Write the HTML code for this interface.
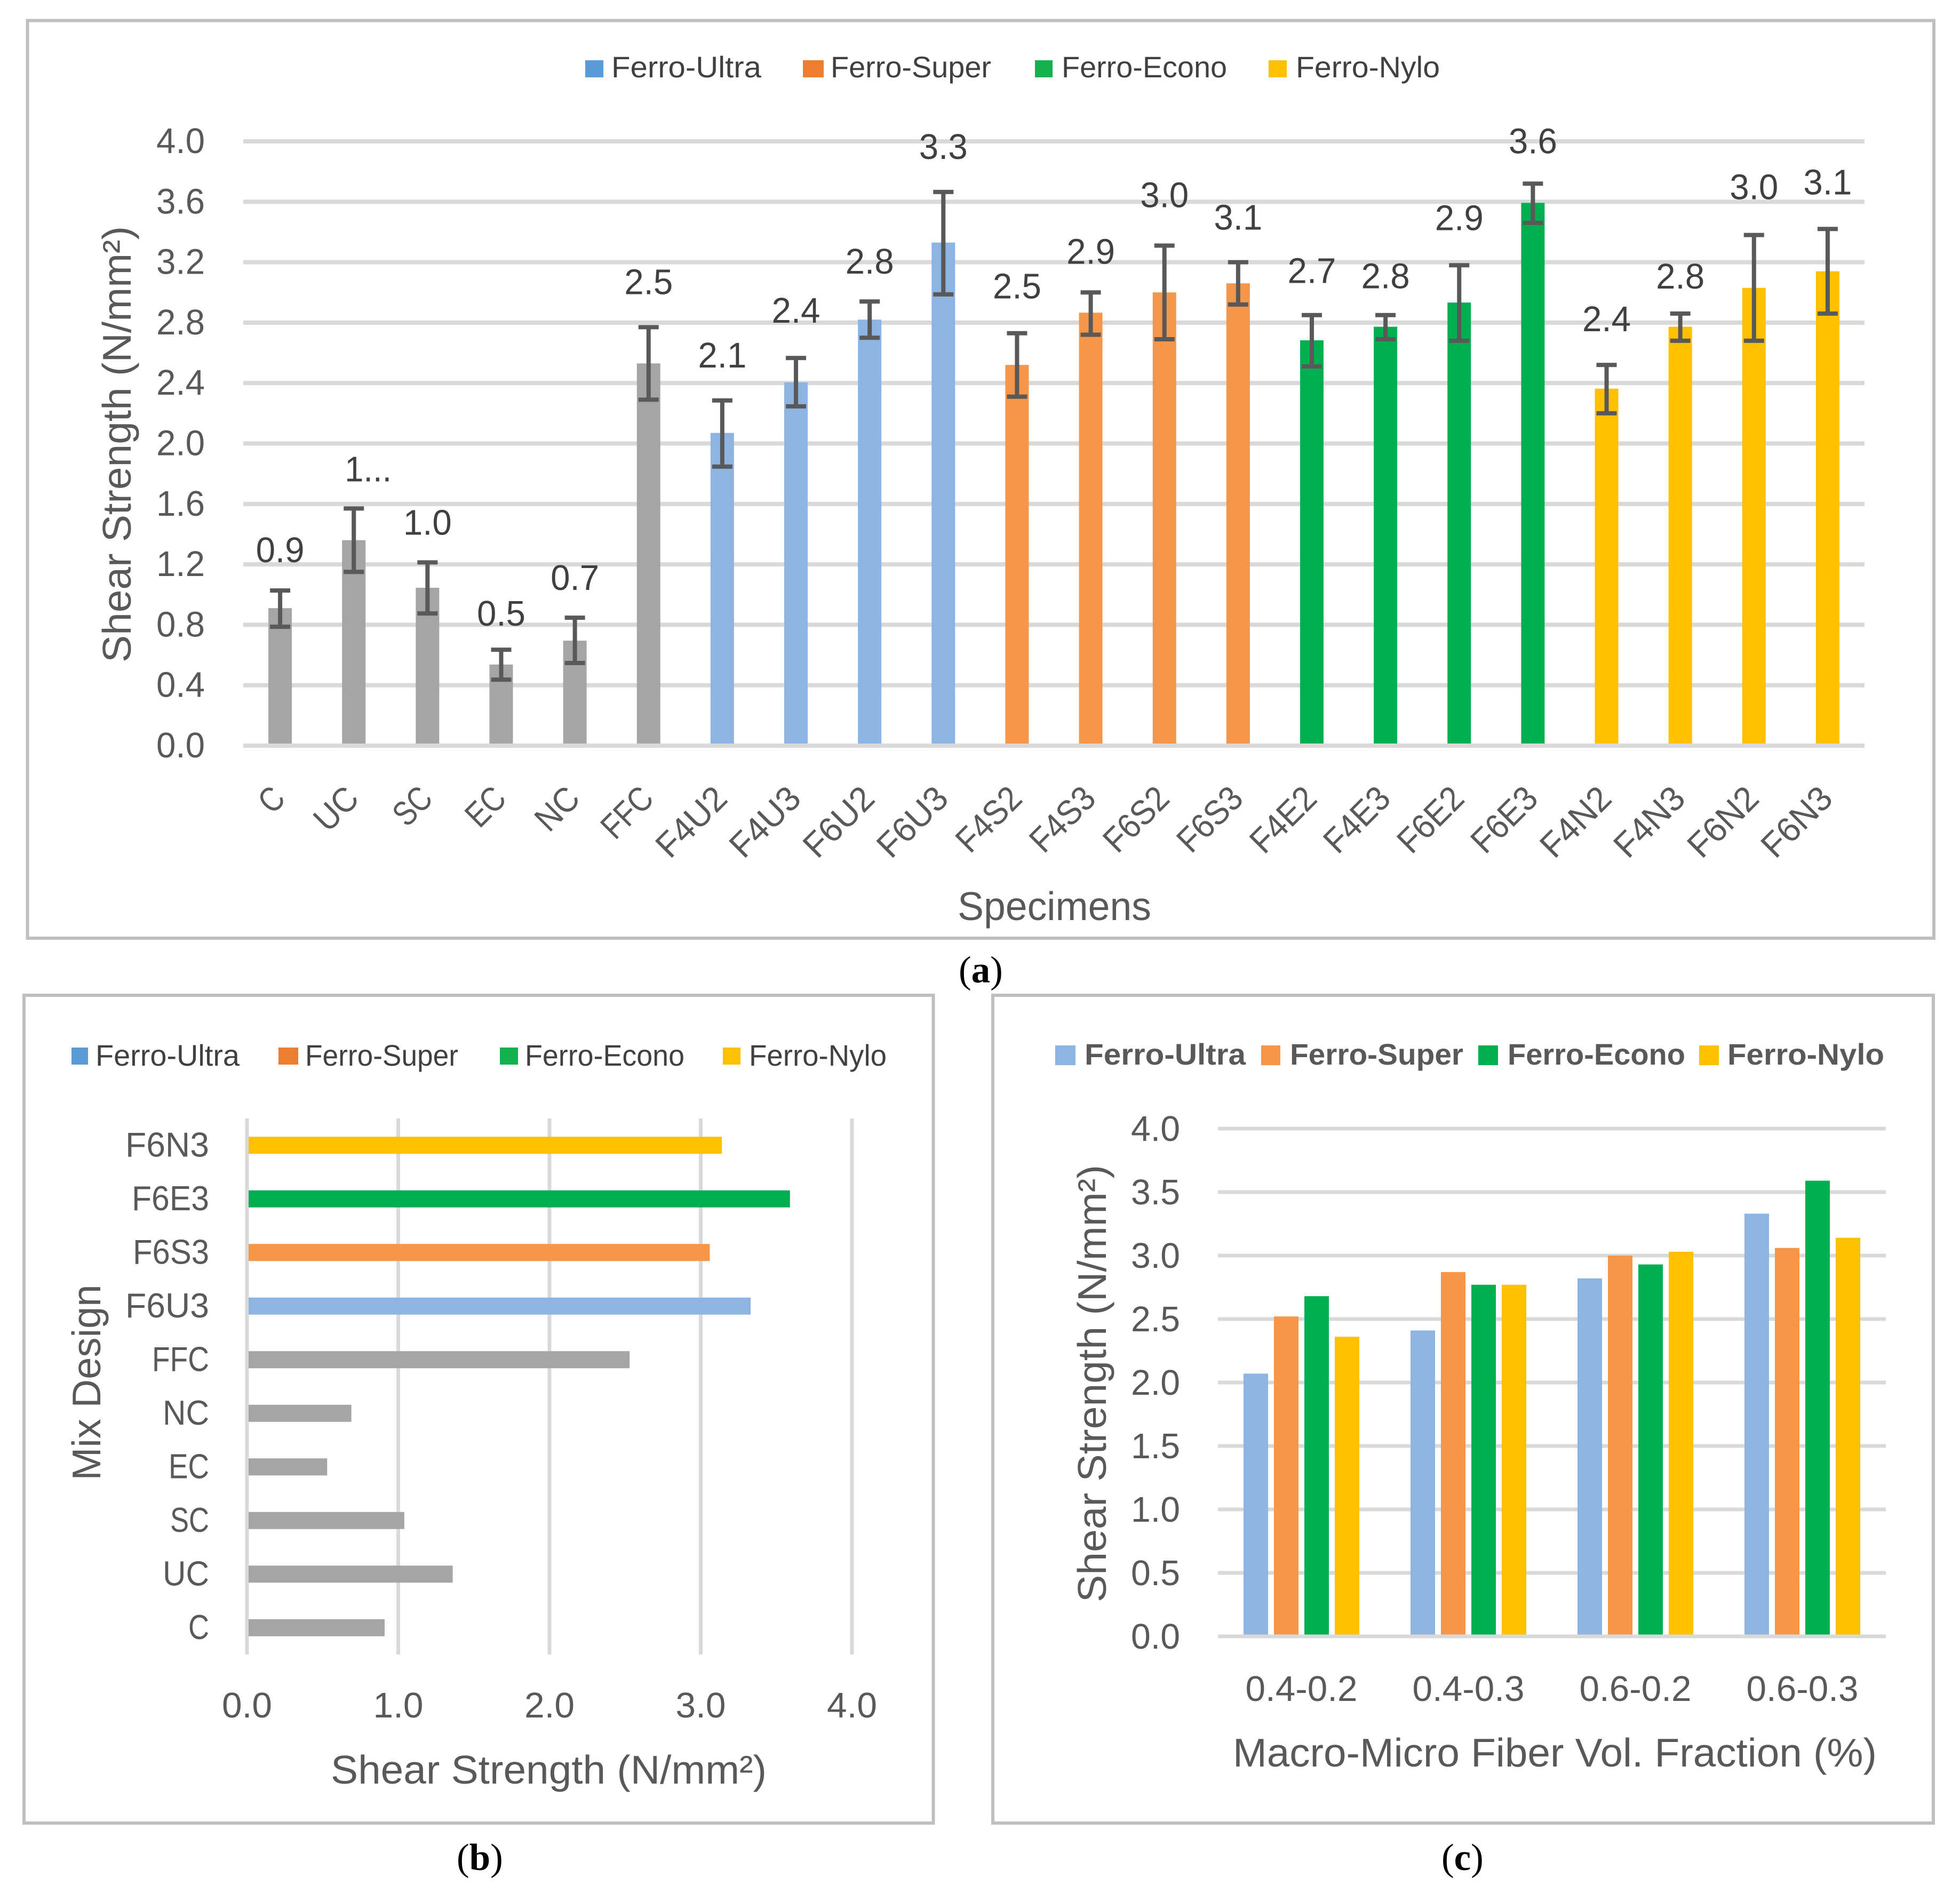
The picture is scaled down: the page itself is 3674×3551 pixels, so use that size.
<!DOCTYPE html>
<html lang="en">
<head>
<meta charset="utf-8">
<title>Shear Strength Charts</title>
<style>
html,body{margin:0;padding:0;background:#fff;}
svg{display:block;}
text{font-family:"Liberation Sans","DejaVu Sans",sans-serif;}
.cap{font-family:"Liberation Serif",serif;font-size:71px;fill:#000;}
.lg{font-size:56px;fill:#404040;}
.lgc{font-size:56px;fill:#595959;font-weight:bold;}
.ttl{font-size:75px;fill:#595959;}
</style>
</head>
<body>
<svg id="fig" xmlns="http://www.w3.org/2000/svg" width="3674" height="3551" viewBox="0 0 3674 3551">
<rect x="0" y="0" width="3674" height="3551" fill="#fff"/>
<rect x="51.5" y="38.5" width="3573.5" height="1720.5" fill="#fff" stroke="#bfbfbf" stroke-width="6"/>
<rect x="45" y="1866" width="1704.5" height="1552" fill="#fff" stroke="#bfbfbf" stroke-width="6"/>
<rect x="1861" y="1866" width="1763" height="1552" fill="#fff" stroke="#bfbfbf" stroke-width="6"/>

<g>
<rect x="1097" y="113" width="34" height="32" fill="#5b9bd5"/>
<text class="lg" x="1146" y="145" textLength="281" lengthAdjust="spacingAndGlyphs">Ferro-Ultra</text>
<rect x="1505" y="113" width="39" height="32" fill="#ed7d31"/>
<text class="lg" x="1557" y="145" textLength="301" lengthAdjust="spacingAndGlyphs">Ferro-Super</text>
<rect x="1940" y="113" width="33" height="32" fill="#13b24f"/>
<text class="lg" x="1990" y="145" textLength="310" lengthAdjust="spacingAndGlyphs">Ferro-Econo</text>
<rect x="2378" y="113" width="34" height="32" fill="#ffc000"/>
<text class="lg" x="2429" y="145" textLength="270" lengthAdjust="spacingAndGlyphs">Ferro-Nylo</text>
</g>
<text class="ttl" transform="translate(245 833) rotate(-90)" text-anchor="middle" textLength="818" lengthAdjust="spacingAndGlyphs">Shear Strength (N/mm²)</text>
<text class="ttl" x="1795" y="1725" textLength="363" lengthAdjust="spacingAndGlyphs">Specimens</text>
<text class="cap" x="1797" y="1842">(<tspan font-weight="bold">a</tspan>)</text>

<g>
<rect x="134" y="1964" width="31" height="32" fill="#5b9bd5"/>
<text class="lg" x="179" y="1998" textLength="270" lengthAdjust="spacingAndGlyphs">Ferro-Ultra</text>
<rect x="522" y="1964" width="37" height="32" fill="#ed7d31"/>
<text class="lg" x="572" y="1998" textLength="287" lengthAdjust="spacingAndGlyphs">Ferro-Super</text>
<rect x="937" y="1964" width="34" height="32" fill="#13b24f"/>
<text class="lg" x="984" y="1998" textLength="299" lengthAdjust="spacingAndGlyphs">Ferro-Econo</text>
<rect x="1355" y="1964" width="33" height="32" fill="#ffc000"/>
<text class="lg" x="1404" y="1998" textLength="258" lengthAdjust="spacingAndGlyphs">Ferro-Nylo</text>
</g>
<text class="ttl" x="620" y="3344" textLength="817" lengthAdjust="spacingAndGlyphs">Shear Strength (N/mm²)</text>
<text class="ttl" transform="translate(188 2592) rotate(-90)" text-anchor="middle" textLength="367" lengthAdjust="spacingAndGlyphs">Mix Design</text>
<text class="cap" x="856" y="3506">(<tspan font-weight="bold">b</tspan>)</text>

<g>
<rect x="1978" y="1960" width="38" height="37" fill="#8eb4e3"/>
<text class="lgc" x="2033" y="1996" textLength="302" lengthAdjust="spacingAndGlyphs">Ferro-Ultra</text>
<rect x="2364" y="1960" width="36" height="37" fill="#f79646"/>
<text class="lgc" x="2418" y="1996" textLength="325" lengthAdjust="spacingAndGlyphs">Ferro-Super</text>
<rect x="2771" y="1960" width="37" height="37" fill="#00b050"/>
<text class="lgc" x="2826" y="1996" textLength="333" lengthAdjust="spacingAndGlyphs">Ferro-Econo</text>
<rect x="3185" y="1960" width="37" height="37" fill="#ffc000"/>
<text class="lgc" x="3238" y="1996" textLength="294" lengthAdjust="spacingAndGlyphs">Ferro-Nylo</text>
</g>
<text class="ttl" x="2311" y="3312" textLength="1207" lengthAdjust="spacingAndGlyphs">Macro-Micro Fiber Vol. Fraction (%)</text>
<text class="ttl" transform="translate(2073 2594) rotate(-90)" text-anchor="middle" textLength="820" lengthAdjust="spacingAndGlyphs">Shear Strength (N/mm²)</text>
<text class="cap" x="2702" y="3506">(<tspan font-weight="bold">c</tspan>)</text>
</svg>

<script>
// ---- Panel (a) data ----
var catsA = ['C','UC','SC','EC','NC','FFC','F4U2','F4U3','F6U2','F6U3','F4S2','F4S3','F6S2','F6S3','F4E2','F4E3','F6E2','F6E3','F4N2','F4N3','F6N2','F6N3'];
var groupsA = ['control','control','control','control','control','control','ultra','ultra','ultra','ultra','super','super','super','super','econo','econo','econo','econo','nylo','nylo','nylo','nylo'];
var valuesA = [0.91,1.36,1.045,0.537,0.695,2.53,2.07,2.405,2.82,3.33,2.52,2.866,3.0,3.06,2.683,2.773,2.933,3.593,2.363,2.773,3.03,3.14];
var errHighA = [1.027,1.57,1.213,0.635,0.847,2.77,2.285,2.566,2.94,3.665,2.73,3.0,3.31,3.2,2.85,2.85,3.18,3.72,2.52,2.86,3.38,3.42];
var errLowA = [0.787,1.15,0.875,0.437,0.547,2.29,1.847,2.246,2.70,2.987,2.31,2.72,2.69,2.92,2.51,2.69,2.68,3.46,2.2,2.68,2.68,2.86];
var printedA = ['0.9','1...','1.0','0.5','0.7','2.5','2.1','2.4','2.8','3.3','2.5','2.9','3.0','3.1','2.7','2.8','2.9','3.6','2.4','2.8','3.0','3.1'];
var ticksA = ['0.0','0.4','0.8','1.2','1.6','2.0','2.4','2.8','3.2','3.6','4.0'];

// ---- Panel (b) data ----
var catsB = ['C','UC','SC','EC','NC','FFC','F6U3','F6S3','F6E3','F6N3'];
var groupsB = ['control','control','control','control','control','control','ultra','super','econo','nylo'];
var valuesB = [0.91,1.36,1.04,0.53,0.69,2.53,3.33,3.06,3.59,3.14];
var ticksB = ['0.0','1.0','2.0','3.0','4.0'];

// ---- Panel (c) data ----
var catsC = ['0.4-0.2','0.4-0.3','0.6-0.2','0.6-0.3'];
var seriesNamesC = ['ultra','super','econo','nylo'];
var ultraC = [2.07,2.41,2.82,3.33];
var superC = [2.52,2.87,3.0,3.06];
var econoC = [2.68,2.77,2.93,3.59];
var nyloC = [2.36,2.77,3.03,3.14];
var ticksC = ['0.0','0.5','1.0','1.5','2.0','2.5','3.0','3.5','4.0'];

// ---- Appearance ----
var colors = {control:'#a5a5a5', ultra:'#8eb4e3', super:'#f79646', econo:'#00b050', nylo:'#ffc000'};
var labelLift = [53,51,52,45,52,62,62,66,52,62,65,54,72,61,60,50,66,57,63,47,67,65];
var glyphEm = {'F':0.459,'S':0.459,'E':0.488,'N':0.646,'U':0.642,'C':0.533,'.':0.252,'-':0.306};

var svg = document.getElementById('fig');
var NS = 'http://www.w3.org/2000/svg';
function make(tag, attrs, parent) {
  var e = document.createElementNS(NS, tag);
  for (var k in attrs) e.setAttribute(k, attrs[k]);
  (parent || svg).appendChild(e);
  return e;
}
function group() {
  return make('g', {});
}
// Width the label has in the narrower face of the reference.
function fitLength(str) {
  var em = 0;
  for (var i = 0; i < str.length; i++) {
    em += glyphEm[str[i]] !== undefined ? glyphEm[str[i]] : 0.507;
  }
  return Math.round(em * 74);
}
var el;

// ===== Panel (a) =====
var gA = group();


function xA(i) { return 456 + (3495 - 456) / catsA.length * (i + 0.5); }
function yA(v) { return 1398 - v * 283.25; }

ticksA.forEach(function (t) {
  var v = parseFloat(t);
  if (v !== 0) {
    el = make('rect', {x: 456, y: yA(v) - 4, width: 3039, height: 8, fill: '#d9d9d9'}, gA);
    
    
  }
  el = make('text', {x: 384, y: yA(v) + 22, 'text-anchor': 'end', 'font-size': 67, fill: '#595959', textLength: 91, lengthAdjust: 'spacingAndGlyphs'}, gA);
  el.textContent = t;
  
  
});
catsA.forEach(function (c, i) {
  el = make('rect', {x: xA(i) - 22, y: yA(valuesA[i]), width: 44, height: 1398 - yA(valuesA[i]), fill: colors[groupsA[i]]}, gA);
  
  
});
el = make('rect', {x: 456, y: yA(0) - 4, width: 3039, height: 8, fill: '#d9d9d9'}, gA);


catsA.forEach(function (c, i) {
  var x = xA(i), hi = yA(errHighA[i]), lo = yA(errLowA[i]);
  var eg = make('g', {fill: '#595959'}, gA);
  
  
  make('rect', {x: x - 4, y: hi, width: 8, height: lo - hi}, eg);
  make('rect', {x: x - 19, y: hi - 4, width: 38, height: 8}, eg);
  make('rect', {x: x - 19, y: lo - 4, width: 38, height: 8}, eg);

  // The truncated label sits to the right of its bar in the reference.
  var truncated = printedA[i].length > 3;
  el = make('text', {x: truncated ? x + 27 : x, y: hi - labelLift[i], 'text-anchor': 'middle', 'font-size': 67, fill: '#404040', textLength: truncated ? 88 : 91, lengthAdjust: 'spacingAndGlyphs'}, gA);
  el.textContent = printedA[i];
  
  

  var px = x + 13, py = 1501;
  el = make('text', {x: px, y: py, 'text-anchor': 'end', 'font-size': 65, fill: '#595959', transform: 'rotate(-45 ' + px + ' ' + py + ')', textLength: fitLength(c), lengthAdjust: 'spacingAndGlyphs'}, gA);
  el.textContent = c;
  
  
});

// ===== Panel (b) =====
var gB = group();


function xB(v) { return 463 + v * 283.5; }
function yB(i) { return 3102 - (3102 - 2097) / catsB.length * (i + 0.5); }

ticksB.forEach(function (t) {
  var v = parseFloat(t);
  el = make('rect', {x: xB(v) - 3.5, y: 2097, width: 7, height: 1005, fill: '#d9d9d9'}, gB);
  
  
  el = make('text', {x: xB(v), y: 3220, 'text-anchor': 'middle', 'font-size': 67, fill: '#595959', textLength: 94, lengthAdjust: 'spacingAndGlyphs'}, gB);
  el.textContent = t;
  
  
});
catsB.forEach(function (c, i) {
  el = make('rect', {x: 466, y: yB(i) - 16, width: xB(valuesB[i]) - 466, height: 32, fill: colors[groupsB[i]]}, gB);
  
  
  el = make('text', {x: 392, y: yB(i) + 21, 'text-anchor': 'end', 'font-size': 65, fill: '#595959', textLength: fitLength(c), lengthAdjust: 'spacingAndGlyphs'}, gB);
  el.textContent = c;
  
  
});

// ===== Panel (c) =====
var gC = group();


var seriesC = [ultraC, superC, econoC, nyloC];
function xC(i) { return 2283 + (3535 - 2283) / catsC.length * (i + 0.5); }
function yC(v) { return 3068 - v * 238; }

ticksC.forEach(function (t) {
  var v = parseFloat(t);
  if (v !== 0) {
    el = make('rect', {x: 2283, y: yC(v) - 3.5, width: 1252, height: 7, fill: '#d9d9d9'}, gC);
    
    
  }
  el = make('text', {x: 2212, y: yC(v) + 23, 'text-anchor': 'end', 'font-size': 67, fill: '#595959', textLength: 92, lengthAdjust: 'spacingAndGlyphs'}, gC);
  el.textContent = t;
  
  
});
catsC.forEach(function (c, i) {
  seriesC.forEach(function (s, j) {
    var cx = xC(i) + (j - 1.5) * 57;
    el = make('rect', {x: cx - 23, y: yC(s[i]), width: 46, height: yC(0) - yC(s[i]), fill: colors[seriesNamesC[j]]}, gC);
    
    
  });
  el = make('text', {x: xC(i), y: 3189, 'text-anchor': 'middle', 'font-size': 67, fill: '#595959', textLength: 210, lengthAdjust: 'spacingAndGlyphs'}, gC);
  el.textContent = c;
  
  
});
el = make('rect', {x: 2283, y: yC(0) - 3.5, width: 1252, height: 7, fill: '#d9d9d9'}, gC);


</script>
</body>
</html>
